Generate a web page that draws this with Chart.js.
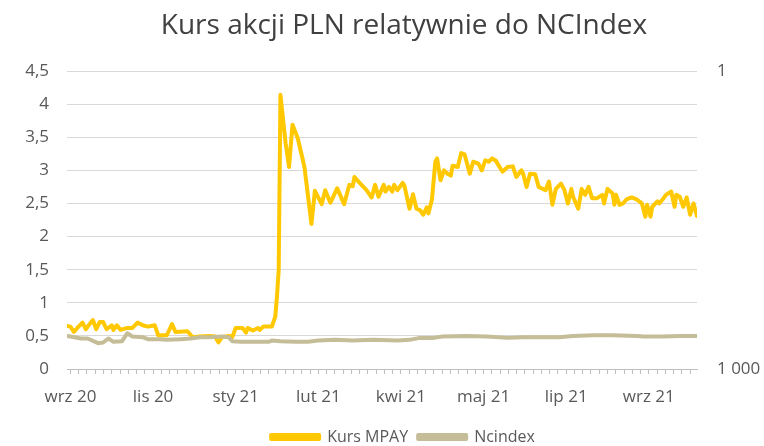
<!DOCTYPE html>
<html>
<head>
<meta charset="utf-8">
<script src="https://cdn.jsdelivr.net/npm/chart.js@4/dist/chart.umd.min.js"></script>
<style>
  html, body { margin: 0; background: #fff; }
  #c { display: block; }
</style>
</head>
<body>
<canvas id="c" width="764" height="446"></canvas>
<script>
// dni liczone od 2020-09-30 (dzień 0)
const xTickLabels = ["wrz 20", "lis 20", "sty 21", "lut 21", "kwi 21", "maj 21", "lip 21", "wrz 21"];
const yTickRight = ["1 000", "1"];

const mpayDays = [
  -2, 0, 2, 4, 7, 9, 10, 13, 15, 17,
  19, 21, 24, 25, 27, 29, 33, 36, 39, 42,
  45, 49, 51, 56, 59, 61, 68, 71, 75, 81,
  84, 86, 88, 92, 94, 96, 100, 102, 103, 106,
  109, 110, 112, 117, 119, 120, 121, 122, 125, 127,
  129, 132, 135, 136, 140, 142, 143, 146, 148, 151,
  155, 159, 162, 164, 165, 168, 172, 175, 177, 179,
  182, 183, 185, 187, 188, 190, 193, 194, 197, 199,
  201, 203, 205, 207, 208, 210, 212, 213, 215, 217,
  219, 221, 222, 225, 227, 229, 232, 234, 237, 239,
  241, 243, 245, 247, 250, 251, 254, 257, 259, 262,
  263, 265, 267, 270, 272, 276, 278, 280, 282, 285,
  287, 289, 291, 292, 295, 297, 299, 301, 303, 306,
  309, 310, 312, 315, 316, 317, 319, 321, 323, 326,
  329, 332, 334, 335, 337, 338, 341, 342, 344, 346,
  349, 351, 352, 354, 356, 358, 360, 362, 364
];
const mpayVals = [
  0.65, 0.64, 0.56, 0.62, 0.70, 0.60, 0.64, 0.74, 0.60, 0.71,
  0.71, 0.60, 0.66, 0.59, 0.66, 0.59, 0.62, 0.62, 0.70, 0.66,
  0.64, 0.66, 0.51, 0.51, 0.68, 0.56, 0.57, 0.48, 0.49, 0.50,
  0.49, 0.40, 0.48, 0.50, 0.48, 0.62, 0.62, 0.55, 0.62, 0.58,
  0.62, 0.59, 0.64, 0.64, 0.79, 1.10, 1.50, 4.14, 3.41, 3.05,
  3.69, 3.49, 3.16, 3.04, 2.19, 2.69, 2.64, 2.49, 2.70, 2.51,
  2.73, 2.49, 2.78, 2.76, 2.90, 2.81, 2.70, 2.59, 2.78, 2.60,
  2.78, 2.68, 2.75, 2.68, 2.78, 2.70, 2.81, 2.77, 2.42, 2.64,
  2.42, 2.40, 2.33, 2.44, 2.35, 2.56, 3.13, 3.18, 2.85, 3.00,
  2.95, 2.92, 3.07, 3.05, 3.26, 3.24, 2.95, 3.13, 3.10, 3.00,
  3.15, 3.13, 3.18, 3.15, 3.02, 2.98, 3.05, 3.06, 2.90, 3.00,
  2.95, 2.75, 2.95, 2.94, 2.75, 2.70, 2.83, 2.48, 2.72, 2.80,
  2.70, 2.50, 2.72, 2.60, 2.42, 2.72, 2.63, 2.75, 2.58, 2.58,
  2.63, 2.50, 2.72, 2.65, 2.48, 2.63, 2.48, 2.50, 2.56, 2.59,
  2.56, 2.50, 2.30, 2.48, 2.30, 2.45, 2.53, 2.50, 2.56, 2.63,
  2.68, 2.45, 2.63, 2.60, 2.45, 2.59, 2.33, 2.50, 2.31
];

const ncDays = [
  -2, 0, 6, 10, 16, 19, 22, 25, 30, 33,
  36, 42, 45, 52, 56, 64, 70, 75, 81, 88,
  92, 94, 99, 115, 117, 122, 131, 138, 144, 154,
  164, 176, 190, 197, 203, 211, 216, 230, 242, 254,
  263, 275, 284, 292, 304, 315, 329, 333, 344, 354, 364
];
const ncVals = [
  0.50, 0.49, 0.46, 0.46, 0.39, 0.40, 0.46, 0.41, 0.42, 0.54,
  0.49, 0.48, 0.45, 0.45, 0.44, 0.45, 0.46, 0.48, 0.48, 0.49,
  0.48, 0.42, 0.41, 0.41, 0.43, 0.42, 0.41, 0.41, 0.43, 0.44,
  0.43, 0.44, 0.43, 0.44, 0.47, 0.47, 0.49, 0.50, 0.49, 0.47,
  0.48, 0.48, 0.48, 0.50, 0.51, 0.51, 0.50, 0.49, 0.49, 0.50, 0.50
];

const FONT = "'Open Sans', Lato, sans-serif";
const TXT = "#595959";

const toPts = (xs, ys) => xs.map((x, i) => ({ x, y: ys[i] }));

// tytuł i legenda w oryginale są przesunięte nieco w prawo
const shiftCenter = {
  id: "shiftCenter",
  afterLayout(chart) {
    chart.titleBlock.left += 44;
    chart.legend.left += 42;
  }
};

new Chart(document.getElementById("c"), {
  type: "line",
  data: {
    datasets: [
      {
        label: "Ncindex",
        data: toPts(ncDays, ncVals),
        borderColor: "#c4bd97",
        backgroundColor: "#c4bd97",
        borderWidth: 4,
        pointRadius: 0,
        tension: 0,
        borderJoinStyle: "round",
        borderCapStyle: "round"
      },
      {
        label: "Kurs MPAY",
        data: toPts(mpayDays, mpayVals),
        borderColor: "#ffc800",
        backgroundColor: "#ffc800",
        borderWidth: 4,
        pointRadius: 0,
        tension: 0,
        borderJoinStyle: "round",
        borderCapStyle: "round"
      }
    ]
  },
  plugins: [shiftCenter],
  options: {
    responsive: false,
    animation: false,
    devicePixelRatio: 1,
    layout: { padding: { left: 0, right: 0, top: 0, bottom: -9 } },
    plugins: {
      title: {
        display: true,
        text: "Kurs akcji PLN relatywnie do NCIndex",
        color: "#404040",
        font: { family: FONT, size: 28, weight: "normal" },
        padding: { top: 9, bottom: 28.4 }
      },
      legend: {
        position: "bottom",
        reverse: true,
        labels: {
          color: TXT,
          font: { family: FONT, size: 16 },
          boxWidth: 48,
          boxHeight: 4,
          padding: 10
        }
      },
      tooltip: { enabled: false }
    },
    scales: {
      x: {
        type: "linear",
        min: -2,
        max: 364,
        afterBuildTicks: (s) => {
          const t = [];
          for (let i = 0; i * 4.8 <= 364; i++) t.push({ value: i * 4.8 });
          s.ticks = t;
        },
        afterFit: (s) => { s.height = 50; },
        ticks: {
          autoSkip: false,
          maxRotation: 0,
          padding: 13,
          color: TXT,
          font: { family: FONT, size: 17 },
          callback: (v, i) => (i % 10 === 0 ? xTickLabels[i / 10] : "")
        },
        grid: { drawOnChartArea: false, drawTicks: true, tickLength: 5, tickColor: "#bfbfbf" },
        border: { color: "#bfbfbf", width: 1 }
      },
      y: {
        position: "left",
        min: 0,
        max: 4.5,
        afterFit: (s) => { s.width = 67; },
        ticks: {
          stepSize: 0.5,
          padding: 18,
          color: TXT,
          font: { family: FONT, size: 17 },
          callback: (v) => String(v).replace(".", ",")
        },
        grid: { color: "#d9d9d9", drawTicks: false },
        border: { display: false }
      },
      y1: {
        position: "right",
        min: 0,
        max: 4.5,
        afterBuildTicks: (s) => { s.ticks = [{ value: 0 }, { value: 4.5 }]; },
        afterFit: (s) => { s.width = 67; },
        ticks: {
          padding: 20,
          color: TXT,
          font: { family: FONT, size: 17 },
          callback: (v) => (v === 0 ? yTickRight[0] : yTickRight[1])
        },
        grid: { drawOnChartArea: false, drawTicks: false },
        border: { display: false }
      }
    }
  }
});
</script>
</body>
</html>
